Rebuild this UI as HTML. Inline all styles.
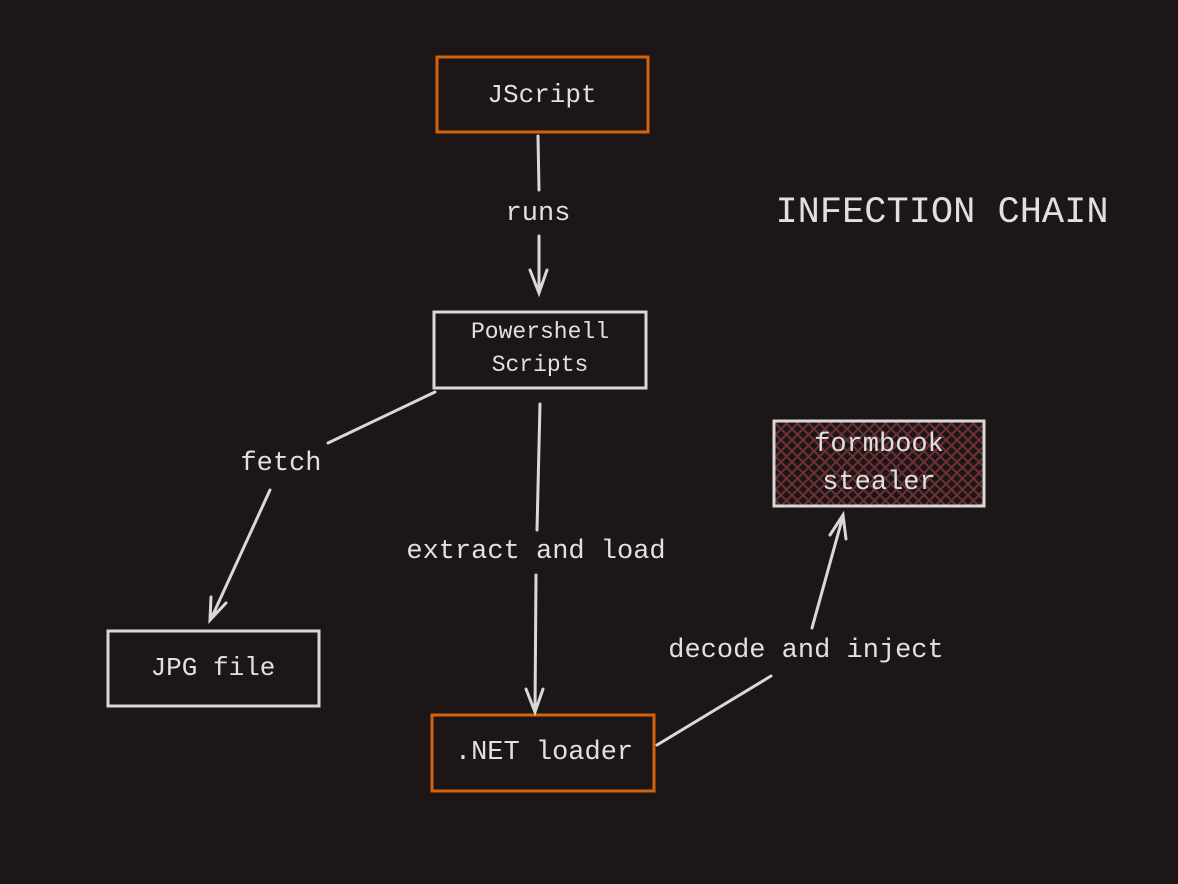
<!DOCTYPE html>
<html><head><meta charset="utf-8"><style>
html,body{margin:0;padding:0;background:#1c1716;}
svg{display:block}
text{font-family:"Liberation Mono",monospace;fill:#e0e0e0;text-anchor:middle;dominant-baseline:middle}
</style></head><body>
<svg width="1178" height="884" viewBox="0 0 1178 884" xmlns="http://www.w3.org/2000/svg">
<defs>
<pattern id="h" width="11" height="11" patternUnits="userSpaceOnUse">
<path d="M-1,1 l2,-2 M0,11 l11,-11 M10,12 l2,-2 M-1,10 l2,2 M0,0 l11,11 M10,-1 l2,2" stroke="#6e3036" stroke-width="2"/>
</pattern>
</defs>
<rect width="1178" height="884" fill="#1c1716"/>
<g fill="none" stroke-width="3">
<rect x="437" y="57" width="211" height="75" stroke="#d2620b"/>
<rect x="434" y="312" width="212" height="76" stroke="#d8d8d8"/>
<rect x="774" y="421" width="210" height="85" fill="url(#h)" stroke="#d8d8d8"/>
<rect x="108" y="631" width="211" height="75" stroke="#d8d8d8"/>
<rect x="432" y="715" width="222" height="76" stroke="#d2620b"/>
</g>
<g fill="none" stroke="#d8d8d8" stroke-width="3" stroke-linecap="round">
<path d="M538 136 L539 190 M539 236 L539 292 M530 270 L539 293 L547 270"/>
<path d="M435 392 L328 443 M270 490 L211 619 M211 597 L210 620 L226 603"/>
<path d="M540 404 L537 530 M536 575 L535 712 M526 689 L535 712 L543 689"/>
<path d="M657 745 L771 676 M812 628 L843 516 M830 535 L843 515 L846 539"/>
</g>
<text x="542" y="95" font-size="26">JScript</text>
<text x="540" y="332" font-size="23">Powershell</text>
<text x="540" y="365" font-size="23">Scripts</text>
<text x="879" y="444" font-size="27">formbook</text>
<text x="879" y="482" font-size="27">stealer</text>
<text x="213" y="668" font-size="26">JPG file</text>
<text x="544" y="752" font-size="27">.NET loader</text>
<text x="538" y="213" font-size="27">runs</text>
<text x="281" y="463" font-size="27">fetch</text>
<text x="536" y="551" font-size="27">extract and load</text>
<text x="806" y="650" font-size="27">decode and inject</text>
<text x="942" y="212" font-size="37">INFECTION CHAIN</text>
</svg>
</body></html>
